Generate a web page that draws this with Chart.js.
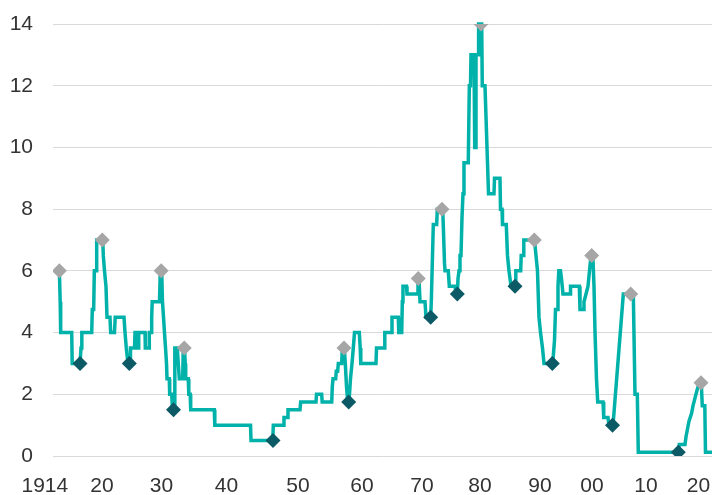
<!DOCTYPE html>
<html>
<head>
<meta charset="utf-8">
<script src="https://cdn.jsdelivr.net/npm/chart.js@4.4.1/dist/chart.umd.min.js"></script>
<style>
  html, body { margin: 0; padding: 0; background: #ffffff; }
  #wrap { width: 712px; height: 495px; }
</style>
</head>
<body>
<div id="wrap"><canvas id="c" width="712" height="495"></canvas></div>
<script>
// ---------- DATA (x in axis years, y in %) ----------
const lineYears = [
  1914.78,1914.88,1914.94,1916.29,1916.35,1917.31,1917.43,1917.53,1918.74,1918.81,
  1918.98,1919.06,1919.27,1919.35,1920.12,1920.22,1920.42,1920.67,1920.84,1921.34,
  1921.46,1922.10,1922.22,1923.70,1923.87,1924.08,1924.37,1924.71,1924.79,1925.46,
  1925.55,1925.88,1925.93,1926.10,1926.17,1927.23,1927.28,1927.90,1927.95,1928.29,
  1928.35,1928.44,1929.66,1929.80,1930.03,1930.15,1930.31,1930.46,1930.62,1930.77,
  1930.85,1931.20,1931.26,1931.57,1931.69,1931.97,1932.05,1932.43,1932.58,1932.74,
  1933.26,1933.35,1933.54,1933.65,1933.72,1934.12,1934.20,1934.42,1934.49,1938.12,
  1938.20,1943.36,1943.43,1946.46,1946.55,1947.94,1948.04,1948.50,1948.60,1950.31,
  1950.42,1952.81,1952.89,1953.70,1953.78,1955.27,1955.36,1955.47,1955.89,1955.98,
  1956.20,1956.30,1956.83,1956.92,1957.23,1957.39,1957.58,1957.78,1957.97,1958.20,
  1958.44,1958.64,1958.83,1959.58,1959.72,1959.81,1962.33,1962.42,1963.72,1963.80,
  1964.92,1965.00,1966.05,1966.13,1966.62,1966.72,1966.83,1967.42,1967.50,1969.22,
  1969.33,1969.50,1969.67,1970.52,1970.69,1971.50,1971.60,1971.81,1971.95,1972.53,
  1972.64,1973.57,1973.71,1973.88,1973.97,1974.53,1974.71,1975.69,1975.86,1976.09,
  1976.21,1976.38,1976.55,1976.72,1976.90,1977.07,1977.24,1977.98,1978.16,1978.36,
  1978.45,1978.97,1979.09,1979.19,1979.31,1979.66,1979.76,1980.28,1980.38,1980.83,
  1981.42,1982.33,1982.42,1983.33,1983.42,1983.67,1983.75,1984.38,1984.58,1984.83,
  1985.17,1985.88,1985.97,1986.78,1986.87,1987.22,1987.30,1989.08,1989.33,1989.58,
  1989.83,1990.10,1990.48,1990.77,1992.37,1992.56,1992.79,1992.98,1993.33,1993.46,
  1993.62,1993.94,1994.13,1994.42,1995.77,1995.87,1997.56,1997.69,1998.33,1998.46,
  1998.85,1999.23,1999.52,1999.81,2000.15,2000.37,2000.56,2000.83,2001.06,2002.04,
  2002.17,2002.96,2003.15,2003.89,2005.80,2007.65,2007.96,2008.39,2008.57,2016.19,
  2016.34,2017.43,2017.62,2017.90,2018.19,2018.67,2018.95,2019.33,2019.71,2020.15,
  2020.53,2020.72,2021.20,2021.33,2022.57
];
const lineRates = [
  6,5,4,4,3,3,3.5,4,4,4.75,
  4.75,6,6,7,7,6.5,6,5.5,4.5,4.5,
  4,4,4.5,4.5,4,3.5,3,3,3.5,3.5,
  4,4,3.5,3.5,4,4,3.5,3.5,4,4,
  4.5,5,5,6,6,5,4.5,4,3.5,3,
  2.5,2.5,2,2,1.5,1.5,3.5,3.5,3,2.5,
  2.5,3.5,3.5,3,2.5,2.5,2,2,1.5,1.5,
  1,1,0.5,0.5,1,1,1.25,1.25,1.5,1.5,
  1.75,1.75,2,2,1.75,1.75,2.25,2.5,2.5,2.75,
  2.75,3,3,3.5,3.5,3,2.25,1.75,1.75,2.5,
  3,3.5,4,4,3.5,3,3,3.5,3.5,4,
  4,4.5,4.5,4,4,5,5.5,5.5,5.25,5.25,
  5.75,5.75,5,5,4.5,4.5,5,6.5,7.5,7.5,
  8,8,7.25,6.25,6,6,5.5,5.5,5.25,5.25,
  5.75,6,6.5,6.5,7.75,8.5,9.5,9.5,12,12,
  13,13,10,10,13,13,14,14,12,12,
  8.5,8.5,9,9,8,8,7.5,7.5,6.5,6,
  5.5,5.5,6,6,6.5,6.5,7,7,6.5,6,
  4.5,4,3.5,3,3,3.25,3.75,4.75,4.75,5.5,
  6,6,5.75,5.25,5.25,5.5,5.5,4.75,4.75,5,
  5.25,5.5,6,6.5,6.5,5.5,4,2.5,1.75,1.75,
  1.25,1.25,1,1,5.25,5.25,2,2,0.125,0.125,
  0.375,0.375,0.625,0.875,1.125,1.375,1.625,1.875,2.125,2.375,
  2.375,1.625,1.625,0.125,0.125
];
const peakYears  = [1914.78,1920.05,1929.95,1933.50,1957.19,1969.38,1973.45,1980.17,1989.05,1999.94,2007.17,2020.48];
const peakRates  = [6,7,6,3.5,3.5,5.75,8,14,7,6.5,5.25,2.375];
const troughYears = [1917.31,1924.59,1931.85,1946.50,1957.92,1971.50,1976.09,1985.83,1992.37,2003.80,2016.15];
const troughRates = [3,3,1.5,0.5,1.75,4.5,5.25,5.5,3,1,0.125];
const tickYears = [1914,1920,1930,1940,1950,1960,1970,1980,1990,2000,2010,2020];
const yTicks = [0,2,4,6,8,10,12,14];

// ---------- AXIS LAYOUT: the reference's time axis is not evenly spaced ----------
const axisWarpYears     = [1914,1920,1930,1940,1950,1960,1970,1980,1990,2000,2010,2020,2022.57];
const axisWarpFractions = [0,0.07436,0.16464,0.26328,0.37178,0.46889,0.55994,0.64795,0.73900,0.81791,0.89985,0.97951,1];

function warpFraction(v) {
  const ys = axisWarpYears, fs = axisWarpFractions;
  let i = 0;
  if (v <= ys[0]) i = 0;
  else if (v >= ys[ys.length - 1]) i = ys.length - 2;
  else { while (i < ys.length - 2 && v > ys[i + 1]) i++; }
  return fs[i] + (v - ys[i]) / (ys[i + 1] - ys[i]) * (fs[i + 1] - fs[i]);
}
function unwarpFraction(f) {
  const ys = axisWarpYears, fs = axisWarpFractions;
  let i = 0;
  if (f <= fs[0]) i = 0;
  else if (f >= fs[fs.length - 1]) i = fs.length - 2;
  else { while (i < fs.length - 2 && f > fs[i + 1]) i++; }
  return ys[i] + (f - fs[i]) / (fs[i + 1] - fs[i]) * (ys[i + 1] - ys[i]);
}

class WarpScale extends Chart.LinearScale {
  getPixelForValue(value) {
    if (value === null || value === undefined || isNaN(value)) return NaN;
    return this.getPixelForDecimal(warpFraction(value));
  }
  getValueForPixel(pixel) {
    return unwarpFraction(this.getDecimalForPixel(pixel));
  }
}
WarpScale.id = 'warp';
WarpScale.defaults = Chart.LinearScale.defaults;
Chart.register(WarpScale);

const toPoints = (xs, ys) => xs.map((x, i) => ({ x: x, y: ys[i] }));

const FONT = { family: "'Liberation Sans', Arial, sans-serif", size: 21 };
const TEXT = '#333333';
const CLEAR = 'rgba(0,0,0,0)';

new Chart(document.getElementById('c'), {
  type: 'line',
  data: {
    datasets: [
      {
        label: 'Peaks',
        data: toPoints(peakYears, peakRates),
        showLine: false,
        pointStyle: 'rectRot',
        pointRadius: 7.5,
        pointBackgroundColor: '#a6a6a6',
        pointBorderWidth: 0,
        order: 0
      },
      {
        label: 'Troughs',
        data: toPoints(troughYears, troughRates),
        showLine: false,
        pointStyle: 'rectRot',
        pointRadius: 7.5,
        pointBackgroundColor: '#0b5a65',
        pointBorderWidth: 0,
        order: 0
      },
      {
        label: 'Rate',
        data: toPoints(lineYears, lineRates),
        borderColor: '#00b2a9',
        borderWidth: 3.5,
        pointRadius: 0,
        tension: 0,
        fill: false,
        clip: false,
        order: 1
      }
    ]
  },
  options: {
    responsive: false,
    animation: false,
    devicePixelRatio: 1,
    layout: { autoPadding: false, padding: { top: 24, right: 0, bottom: 0, left: 0 } },
    plugins: { legend: { display: false }, tooltip: { enabled: false } },
    scales: {
      x: {
        type: 'warp',
        min: axisWarpYears[0],
        max: axisWarpYears[axisWarpYears.length - 1],
        grid: { display: true, drawOnChartArea: false, drawTicks: true, tickLength: 18, color: CLEAR, tickColor: CLEAR },
        border: { display: false },
        ticks: {
          autoSkip: false, maxRotation: 0, minRotation: 0, padding: 0,
          font: FONT, color: TEXT,
          callback: (v) => v === 1914 ? '1914\u2002 ' : String(v % 100).padStart(2, '0')
        },
        afterBuildTicks: (s) => { s.ticks = tickYears.map(v => ({ value: v })); },
        afterFit: (s) => { s.height = 39; }
      },
      y: {
        min: 0, max: 14,
        grid: { color: '#d9d9d9', lineWidth: 1, drawTicks: true, tickLength: 20, tickColor: CLEAR },
        border: { display: false },
        ticks: { padding: 0, font: FONT, color: TEXT },
        afterBuildTicks: (s) => { s.ticks = yTicks.map(v => ({ value: v })); },
        afterFit: (s) => { s.width = 53; }
      }
    }
  }
});
</script>
</body>
</html>
